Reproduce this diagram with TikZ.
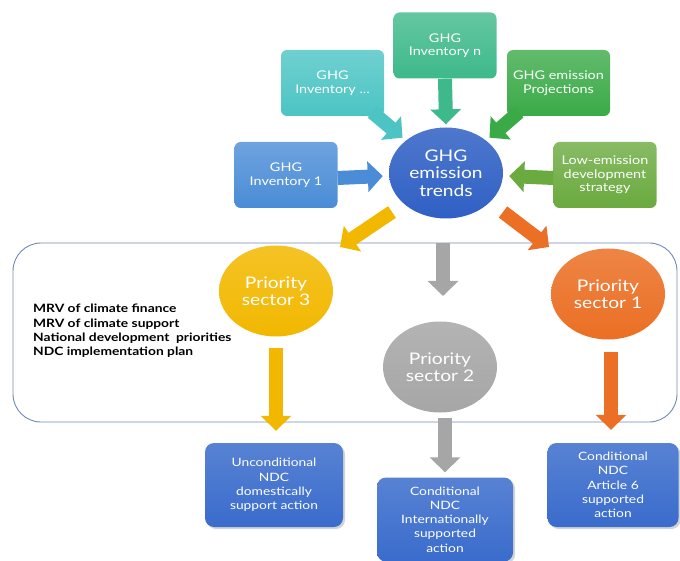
\documentclass[tikz,border=0pt]{standalone}
\usepackage{fontspec}
\setmainfont{Lato}[FakeStretch=1.2]
\usetikzlibrary{arrows.meta,shapes.geometric,shadows}
\definecolor{cInvN}{HTML}{3DB98B}
\definecolor{cInvD}{HTML}{4CC4C4}
\definecolor{cProj}{HTML}{3AAA47}
\definecolor{cInv1}{HTML}{4A8CD6}
\definecolor{cLow}{HTML}{6AAA3E}
\definecolor{cTrend}{HTML}{2F60C4}
\definecolor{cYel}{HTML}{F2B800}
\definecolor{cOra}{HTML}{EB6F24}
\definecolor{cGry}{HTML}{A6A6A6}
\definecolor{cBot}{HTML}{3A6CCC}
\definecolor{cFrame}{HTML}{7088B8}
\tikzset{
  topbox/.style={rectangle, rounded corners=6pt, minimum width=103pt, minimum height=66pt,
    align=center, text=white, inner sep=2pt,
    font=\fontsize{12}{13.5}\selectfont,
    top color=#1!80!white, bottom color=#1, draw=none},
  botbox/.style={rectangle, rounded corners=9pt, minimum height=84pt,
    align=center, text=white, inner sep=2pt,
    font=\fontsize{11.5}{14.2}\selectfont,
    top color=cBot!85!white, bottom color=cBot, draw=none,
    drop shadow={opacity=0.35, shadow xshift=2pt, shadow yshift=-2pt}},
  blob/.style={ellipse, minimum width=114pt, minimum height=91pt, align=center,
    text=white, inner sep=0pt, font=\fontsize{16}{17.5}\selectfont,
    top color=#1!85!white, bottom color=#1, draw=none},
  fatarrow/.style={line width=14pt, draw=#1, -{Triangle[width=30pt,length=15pt]}},
}
\begin{document}
\begin{tikzpicture}[x=1pt,y=-1pt]
\useasboundingbox (0,0) rectangle (680,561);
% frame
\draw[cFrame, line width=0.9pt, rounded corners=28pt] (13,243) rectangle (677,422);
% top boxes
\node[topbox=cInvN] (invn) at (445,45.5) {GHG\\Inventory n};
\node[topbox=cInvD] (invd) at (332.5,83) {GHG\\Inventory ...};
\node[topbox=cProj] (proj) at (558.5,83) {GHG emission\\Projections};
\node[topbox=cInv1] (inv1) at (286,175) {GHG\\Inventory 1};
\node[topbox=cLow] (low) at (605,175) {Low-emission\\development\\strategy};
\node[blob=cTrend] (trend) at (446,173) {GHG\\emission\\trends};
% sector circles
\node[blob=cYel] (p3) at (276,291) {Priority\\sector 3};
\node[blob=cOra] (p1) at (608,294) {Priority\\sector 1};
\node[blob=cGry] (p2) at (440,367) {Priority\\sector 2};
% list
\node[anchor=north west, align=left, font=\bfseries\fontsize{11.5}{14.3}\selectfont, inner sep=0pt] (list) at (33,304)
  {MRV of climate finance\\MRV of climate support\\National development \ priorities\\NDC implementation plan};
% bottom boxes
\node[botbox, minimum width=138pt] (b1) at (274,485) {Unconditional\\NDC\\domestically\\support action};
\node[botbox, minimum width=136pt] (b2) at (445,519.5) {Conditional\\NDC\\Internationally\\supported\\action};
\node[botbox, minimum width=131pt] (b3) at (613,485) {Conditional\\NDC\\Article 6\\supported\\action};
% coordinates
\coordinate (yt) at (340,247);
\coordinate (ys) at (392,212);
\coordinate (ot) at (549,247);
\coordinate (os) at (503,212);
\coordinate (gs) at (443,243);
\coordinate (gt) at (443,296);
% arrows into trend
\draw[fatarrow=cInvN] (invn.south) -- ([yshift=3pt]trend.north);
\draw[fatarrow=cInvD] ([xshift=-12pt,yshift=4pt]invd.south east) -- ([xshift=-3pt,yshift=3pt]trend.north west);
\draw[fatarrow=cProj] ([xshift=12pt,yshift=4pt]proj.south west) -- ([xshift=3pt,yshift=3pt]trend.north east);
\draw[fatarrow=cInv1] ([yshift=-3pt]inv1.east) -- ([xshift=-6pt,yshift=-3pt]trend.west);
\draw[fatarrow=cLow] ([yshift=-3pt]low.west) -- ([xshift=6pt,yshift=-3pt]trend.east);
% arrows out of trend
\draw[fatarrow=cYel] (ys) -- (yt);
\draw[fatarrow=cOra] (os) -- (ot);
\draw[fatarrow=cGry] (gs) -- (gt);
% down arrows
\draw[fatarrow=cYel] ([yshift=-11pt]p3.south) -- ([xshift=2pt,yshift=12pt]b1.north);
\draw[fatarrow=cOra] ([xshift=3pt,yshift=-12pt]p1.south) -- ([xshift=-2pt,yshift=13pt]b3.north);
\draw[fatarrow=cGry] ([xshift=5pt,yshift=-5pt]p2.south) -- ([yshift=5pt]b2.north);
\end{tikzpicture}
\end{document}
